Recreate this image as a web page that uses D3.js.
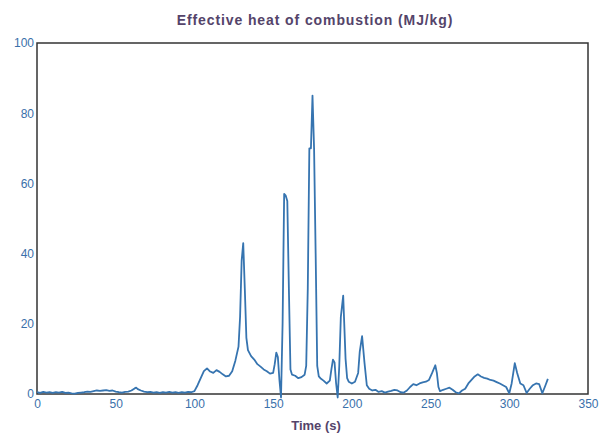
<!DOCTYPE html>
<html>
<head>
<meta charset="utf-8">
<script src="https://cdn.jsdelivr.net/npm/d3@7"></script>
<style>
  body { margin: 0; background: #fff; }
  svg { display: block; font-family: Arial, "Liberation Sans", sans-serif; }
</style>
</head>
<body>
<div id="chart"></div>
<script>
// time (s) and effective heat of combustion (MJ/kg)
var times = [0, 2, 4, 6, 8, 10, 12, 14, 16, 18, 20, 22, 24, 26, 28, 30, 32, 34, 36, 38,
    40, 42, 44, 46, 48, 50, 52, 54, 56, 58, 60, 62, 63, 64, 66, 68, 70, 72, 74, 76,
    78, 80, 82, 84, 86, 88, 90, 92, 94, 96, 98, 100, 102, 104, 106, 108, 110, 112, 114, 116,
    118, 120, 122, 124, 126, 128, 129, 130, 131, 132, 133, 134, 136, 138, 140, 142, 144, 146, 148, 150,
    151, 152, 153, 154, 155, 156, 157, 158, 159, 160, 161, 162, 164, 166, 168, 170, 171, 172, 173, 174,
    175, 176, 177, 178, 179, 180, 182, 184, 186, 187, 188, 189, 190, 191, 192, 193, 194.5, 196, 197, 198,
    200, 202, 204, 205, 206.5, 208, 209.5, 211, 213, 215, 217, 219, 221, 223, 225, 227, 229, 231, 233, 235,
    237, 239, 241, 243, 245, 247, 249, 251, 253, 254, 255, 256, 258, 260, 262, 264, 266, 268, 270, 272,
    274, 276, 278, 280, 282, 284, 286, 288, 290, 292, 294, 296, 298, 300, 301.5, 303.5, 305, 307, 309, 311,
    313, 315, 317, 319, 320, 321, 323, 324.5];
var heat = [0.5, 0.3, 0.6, 0.4, 0.5, 0.3, 0.5, 0.4, 0.6, 0.3, 0.4, 0.2, 0.1, 0.3, 0.4, 0.5, 0.7, 0.6, 0.8, 1.0,
    0.9, 1.0, 1.1, 0.9, 1.0, 0.7, 0.5, 0.4, 0.6, 0.7, 1.0, 1.6, 1.8, 1.4, 1.0, 0.7, 0.5, 0.6, 0.4, 0.5,
    0.3, 0.5, 0.4, 0.6, 0.4, 0.5, 0.3, 0.5, 0.4, 0.6, 0.5, 0.8, 2.5, 4.5, 6.5, 7.3, 6.4, 6.0, 6.8, 6.3,
    5.6, 5.0, 5.2, 6.5, 9.5, 13.5, 22, 38, 43, 30, 16, 12.5, 10.8, 9.8, 8.5, 7.8, 7.0, 6.5, 5.8, 6.0,
    8.5, 11.8, 10.5, 4, -1, 20, 57, 56.5, 55, 30, 7, 5.5, 5.2, 4.5, 4.8, 5.5, 8, 30, 70, 70,
    85, 70, 40, 8, 5, 4.5, 3.8, 3.0, 3.8, 7, 9.8, 9, 3, -1, 8, 22, 28, 10, 4.5, 3.5,
    3.0, 3.5, 6, 12, 16.5, 9, 2.5, 1.5, 1.0, 1.2, 0.6, 0.8, 0.4, 0.7, 0.9, 1.2, 1.0, 0.5, 0.4, 1.0,
    2.0, 2.8, 2.5, 3.0, 3.3, 3.5, 4.0, 6, 8.2, 6, 2, 0.8, 1.2, 1.5, 1.8, 1.2, 0.5, 0.2, 1.0, 1.5,
    3, 4, 5, 5.6, 5, 4.6, 4.4, 4.0, 3.8, 3.4, 3.0, 2.5, 2.0, 0.2, 3, 8.8, 6, 3, 2.5, 0.3,
    1.5, 2.5, 3, 2.8, 1.5, 0.2, 2.5, 4.3];
var xTicks = [0, 50, 100, 150, 200, 250, 300, 350];
var yTicks = [0, 20, 40, 60, 80, 100];

var width = 599, height = 435,
    margin = {top: 43, right: 11, bottom: 41, left: 37},
    w = width - margin.left - margin.right,
    h = height - margin.top - margin.bottom;

var svg = d3.select('#chart').append('svg')
    .attr('width', width)
    .attr('height', height);

var g = svg.append('g')
    .attr('transform', 'translate(' + margin.left + ',' + margin.top + ')');

var x = d3.scaleLinear().domain([0, 350]).range([0, w]),
    y = d3.scaleLinear().domain([0, 100]).range([h, 0]);

var tickColor = '#3a70aa';

var xAxis = g.append('g')
    .attr('transform', 'translate(0,' + h + ')')
    .call(d3.axisBottom(x).tickValues(xTicks).tickSize(0).tickPadding(5));
xAxis.select('.domain').remove();
xAxis.selectAll('text').attr('fill', tickColor).style('font-size', '12px');

var yAxis = g.append('g')
    .call(d3.axisLeft(y).tickValues(yTicks).tickSize(0).tickPadding(3));
yAxis.select('.domain').remove();
yAxis.selectAll('text').attr('fill', tickColor).style('font-size', '12px');

// frame round the plot area
g.append('rect')
    .attr('x', 0)
    .attr('y', 0)
    .attr('width', w)
    .attr('height', h)
    .attr('fill', 'none')
    .attr('stroke', '#333')
    .attr('stroke-width', 1.5);

var line = d3.line()
    .x(function(d, i) { return x(times[i]); })
    .y(function(d) { return y(d); });

g.append('path')
    .datum(heat)
    .attr('d', line)
    .attr('fill', 'none')
    .attr('stroke', '#3674b0')
    .attr('stroke-width', 1.8)
    .attr('stroke-linejoin', 'round');

svg.append('text')
    .attr('x', 315)
    .attr('y', 25)
    .attr('text-anchor', 'middle')
    .attr('fill', '#54446a')
    .style('font-size', '14px')
    .style('font-weight', 'bold')
    .style('letter-spacing', '0.9px')
    .text('Effective heat of combustion (MJ/kg)');

svg.append('text')
    .attr('x', 316)
    .attr('y', 430)
    .attr('text-anchor', 'middle')
    .attr('fill', '#54446a')
    .style('font-size', '13px')
    .style('font-weight', 'bold')
    .text('Time (s)');
</script>
</body>
</html>
